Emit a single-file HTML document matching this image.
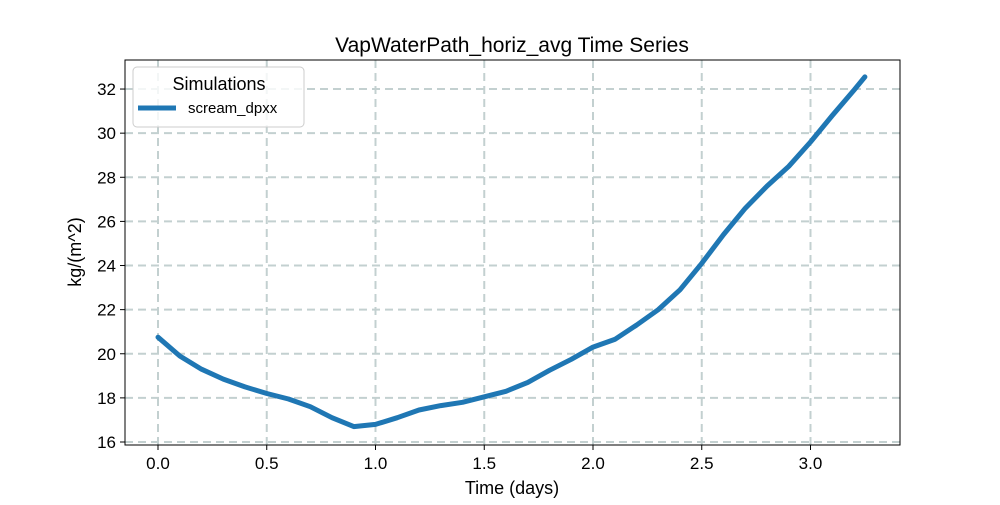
<!DOCTYPE html>
<html><head><meta charset="utf-8"><style>
body{margin:0;background:#fff;}
svg{font-family:"Liberation Sans","DejaVu Sans",sans-serif;}
</style></head><body>
<svg id="chart" width="1000" height="500">
<text x="512" y="52" text-anchor="middle" font-size="21">VapWaterPath_horiz_avg Time Series</text>
<g id="grid"></g>
<g id="ticks"></g>
<path id="line" fill="none" stroke="#1f77b4" stroke-width="5" stroke-linejoin="round" stroke-linecap="round"/>
<rect x="125" y="60" width="775" height="385" fill="none" stroke="#000" stroke-width="1"/>
<text x="512" y="494" text-anchor="middle" font-size="18">Time (days)</text>
<text transform="translate(81,252) rotate(-90)" text-anchor="middle" font-size="18">kg/(m^2)</text>
<g>
<rect x="133" y="67" width="171" height="60" rx="4" fill="#fff" fill-opacity="0.8" stroke="#ccc"/>
<text x="219" y="90" text-anchor="middle" font-size="18">Simulations</text>
<line x1="138" y1="108" x2="176" y2="108" stroke="#1f77b4" stroke-width="5"/>
<text x="188" y="113" font-size="15">scream_dpxx</text>
</g>
</svg>
<script>
const days=[0,0.1,0.2,0.3,0.4,0.5,0.6,0.7,0.8,0.9,1.0,1.1,1.2,1.3,1.4,1.5,1.6,1.7,1.8,1.9,2.0,2.1,2.2,2.3,2.4,2.5,2.6,2.7,2.8,2.9,3.0,3.1,3.2,3.25];
const values=[20.75,19.9,19.3,18.85,18.5,18.2,17.95,17.6,17.1,16.7,16.8,17.1,17.45,17.65,17.8,18.05,18.3,18.7,19.25,19.75,20.3,20.65,21.3,22.0,22.9,24.1,25.4,26.6,27.6,28.5,29.6,30.8,31.95,32.55];
const xTicks=[0,0.5,1.0,1.5,2.0,2.5,3.0];
const yTicks=[16,18,20,22,24,26,28,30,32];
const X=v=>158+v*217.5, Y=v=>442-(v-16)*22.06;
const NS="http://www.w3.org/2000/svg";
const grid=document.getElementById('grid'), ticks=document.getElementById('ticks');
function mk(tag,attrs,parent){const e=document.createElementNS(NS,tag);for(const k in attrs)e.setAttribute(k,attrs[k]);parent.appendChild(e);return e;}
xTicks.forEach(t=>{
 const g=mk('line',{x1:X(t),x2:X(t),y1:60,y2:445,stroke:'#c3d0d0',"stroke-width":2,"stroke-dasharray":"8,5"},grid);
 
 
 const tk=mk('line',{x1:X(t),x2:X(t),y1:445,y2:450,stroke:'#000'},ticks);
 
 
 const tx=mk('text',{x:X(t),y:469,"text-anchor":"middle","font-size":17},ticks);
 tx.textContent=t.toFixed(1);
 
 
});
yTicks.forEach(t=>{
 const g=mk('line',{x1:125,x2:900,y1:Y(t),y2:Y(t),stroke:'#c3d0d0',"stroke-width":2,"stroke-dasharray":"8,5"},grid);
 
 
 const tk=mk('line',{x1:120,x2:125,y1:Y(t),y2:Y(t),stroke:'#000'},ticks);
 
 
 const tx=mk('text',{x:116,y:Y(t)+6,"text-anchor":"end","font-size":17},ticks);
 tx.textContent=t;
 
 
});
document.getElementById('line').setAttribute('d',days.map((d,i)=>(i?'L':'M')+X(d).toFixed(1)+','+Y(values[i]).toFixed(1)).join(''));
</script>
</body></html>
